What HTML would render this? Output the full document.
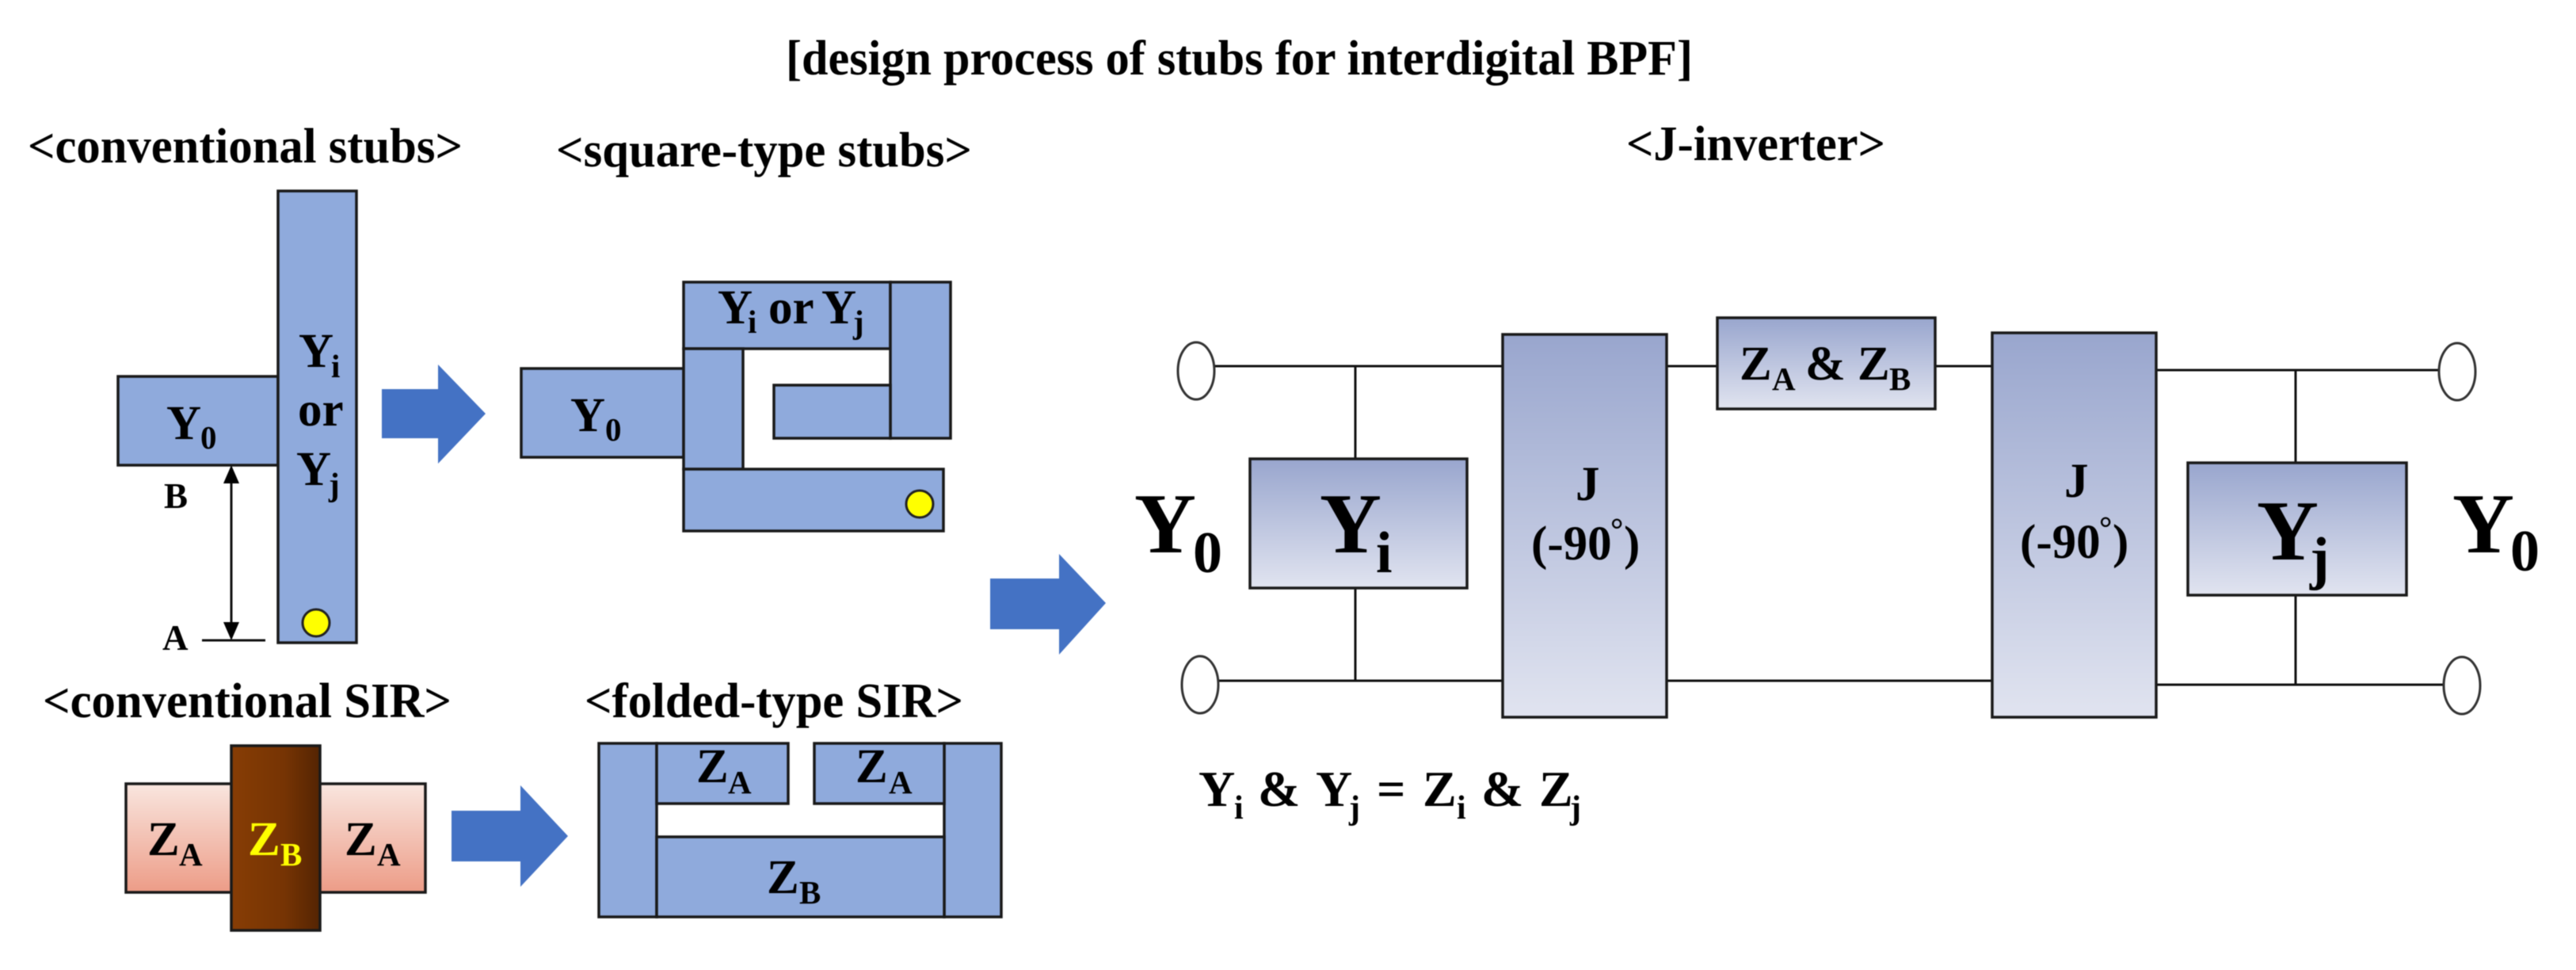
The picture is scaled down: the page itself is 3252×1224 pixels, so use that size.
<!DOCTYPE html>
<html>
<head>
<meta charset="utf-8">
<style>
html,body{margin:0;padding:0;background:#fff;}
svg{display:block;filter:blur(0.6px);}
text{font-family:"Liberation Serif",serif;font-weight:bold;fill:#000;}
.h{font-size:62px;}
.m{font-size:61px;}
.s{font-size:41px;}
.b{font-size:108px;}
.bs{font-size:74px;}
.e{font-size:64px;}
.es{font-size:42px;}
.y{fill:#ffff00;}
.l{stroke:#111;stroke-width:3;fill:none;}
.r{fill:#8faadc;stroke:#1a1a1a;stroke-width:3.5;}
.g{fill:url(#gb);stroke:#1a1a1a;stroke-width:3.5;}
.a{fill:#4472c4;}
.t{fill:#fff;stroke:#333;stroke-width:3;}
</style>
</head>
<body>
<svg width="3252" height="1224" viewBox="0 0 3252 1224" xmlns="http://www.w3.org/2000/svg">
<defs>
<linearGradient id="gb" x1="0" y1="0" x2="0" y2="1"><stop offset="0" stop-color="#99a6ce"/><stop offset="1" stop-color="#e1e4f0"/></linearGradient>
<linearGradient id="gp" x1="0" y1="0" x2="0" y2="1"><stop offset="0" stop-color="#f9e6df"/><stop offset="1" stop-color="#ed9c87"/></linearGradient>
<linearGradient id="gbr" x1="0" y1="0" x2="1" y2="0"><stop offset="0" stop-color="#873d05"/><stop offset="0.6" stop-color="#763404"/><stop offset="1" stop-color="#542403"/></linearGradient>
</defs>
<rect width="3252" height="1224" fill="#fff"/>

<!-- headings -->
<text class="h" x="992" y="94" textLength="1145" lengthAdjust="spacingAndGlyphs">[design process of stubs for interdigital BPF]</text>
<text class="h" x="35" y="205" textLength="549" lengthAdjust="spacingAndGlyphs">&lt;conventional stubs&gt;</text>
<text class="h" x="702" y="210" textLength="525" lengthAdjust="spacingAndGlyphs">&lt;square-type stubs&gt;</text>
<text class="h" x="2053" y="202" textLength="327" lengthAdjust="spacingAndGlyphs">&lt;J-inverter&gt;</text>
<text class="h" x="54" y="905" textLength="516" lengthAdjust="spacingAndGlyphs">&lt;conventional SIR&gt;</text>
<text class="h" x="738" y="905" textLength="478" lengthAdjust="spacingAndGlyphs">&lt;folded-type SIR&gt;</text>

<!-- conventional stubs -->
<rect class="r" x="149" y="475" width="202" height="112"/>
<rect class="r" x="351" y="241" width="99" height="570"/>
<ellipse cx="399" cy="786" rx="17" ry="17" fill="#ffff00" stroke="#222" stroke-width="3"/>
<text class="m" x="210" y="554">Y</text><text class="s" x="253" y="566">0</text>
<text class="m" x="377" y="463">Y</text><text class="s" x="418" y="476">i</text>
<text class="m" x="376" y="537">or</text>
<text class="m" x="374" y="612">Y</text><text class="s" x="415" y="625">j</text>
<text class="m" style="font-size:45px" x="207" y="641">B</text>
<text class="m" style="font-size:45px" x="205" y="820">A</text>
<line class="l" x1="292" y1="605" x2="292" y2="790"/>
<polygon points="292,587 282,610 302,610" fill="#000"/>
<polygon points="292,808 282,785 302,785" fill="#000"/>
<line class="l" x1="255" y1="808" x2="335" y2="808"/>

<!-- arrows -->
<polygon class="a" points="482,491 553,491 553,460 613,522 553,585 553,553 482,553"/>
<polygon class="a" points="1250,730 1337,730 1337,699 1396,761 1337,826 1337,794 1250,794"/>
<polygon class="a" points="570,1023 657,1023 657,991 717,1055 657,1119 657,1087 570,1087"/>

<!-- square-type stubs -->
<rect class="r" x="658" y="465" width="205" height="112"/>
<rect class="r" x="863" y="356" width="261" height="84"/>
<rect class="r" x="1124" y="356" width="76" height="197"/>
<rect class="r" x="977" y="486" width="147" height="67"/>
<rect class="r" x="863" y="440" width="75" height="152"/>
<rect class="r" x="863" y="592" width="328" height="78"/>
<circle cx="1161" cy="636" r="17" fill="#ffff00" stroke="#222" stroke-width="3"/>
<text class="m" x="720" y="544">Y</text><text class="s" x="764" y="556">0</text>
<text class="m" x="906" y="408">Y</text><text class="s" x="944" y="420">i</text>
<text class="m" x="970" y="408">or</text>
<text class="m" x="1037" y="408">Y</text><text class="s" x="1077" y="420">j</text>

<!-- conventional SIR -->
<rect x="159" y="989" width="378" height="137" fill="url(#gp)" stroke="#1a1a1a" stroke-width="3.5"/>
<rect x="292" y="941" width="112" height="233" fill="url(#gbr)" stroke="#1a1a1a" stroke-width="3.5"/>
<text class="m" x="186" y="1079">Z</text><text class="s" x="226" y="1092">A</text>
<text class="m y" x="313" y="1079">Z</text><text class="s y" x="354" y="1092">B</text>
<text class="m" x="435" y="1079">Z</text><text class="s" x="476" y="1092">A</text>

<!-- folded SIR -->
<rect class="r" x="756" y="938" width="73" height="219"/>
<rect class="r" x="1192" y="938" width="72" height="219"/>
<rect class="r" x="829" y="938" width="166" height="76"/>
<rect class="r" x="1028" y="938" width="164" height="76"/>
<rect class="r" x="829" y="1056" width="363" height="101"/>
<text class="m" x="879" y="987">Z</text><text class="s" x="919" y="1001">A</text>
<text class="m" x="1080" y="987">Z</text><text class="s" x="1122" y="1001">A</text>
<text class="m" x="968" y="1127">Z</text><text class="s" x="1009" y="1140">B</text>

<!-- J-inverter wires -->
<line class="l" x1="1533" y1="462" x2="1897" y2="462"/>
<line class="l" x1="1538" y1="859" x2="1897" y2="859"/>
<line class="l" x1="1711" y1="462" x2="1711" y2="859"/>
<line class="l" x1="2104" y1="462" x2="2168" y2="462"/>
<line class="l" x1="2443" y1="462" x2="2515" y2="462"/>
<line class="l" x1="2104" y1="859" x2="2515" y2="859"/>
<line class="l" x1="2722" y1="467" x2="3079" y2="467"/>
<line class="l" x1="2722" y1="864" x2="3085" y2="864"/>
<line class="l" x1="2898" y1="467" x2="2898" y2="864"/>

<ellipse class="t" cx="1510" cy="468" rx="23" ry="36"/>
<ellipse class="t" cx="1515" cy="864" rx="23" ry="36"/>
<ellipse class="t" cx="3102" cy="469" rx="23" ry="36"/>
<ellipse class="t" cx="3108" cy="865" rx="23" ry="36"/>

<!-- J-inverter boxes -->
<rect class="g" x="1578" y="579" width="274" height="163"/>
<rect class="g" x="1897" y="422" width="207" height="483"/>
<rect class="g" x="2168" y="401" width="275" height="115"/>
<rect class="g" x="2515" y="420" width="207" height="485"/>
<rect class="g" x="2762" y="584" width="276" height="167"/>

<!-- J-inverter labels -->
<text class="b" x="1432" y="697">Y</text><text class="bs" x="1506" y="722">0</text>
<text class="b" x="1666" y="697">Y</text><text class="bs" x="1737" y="722">i</text>
<text class="b" x="2849" y="706">Y</text><text class="bs" x="2916" y="729">j</text>
<text class="b" x="3096" y="697">Y</text><text class="bs" x="3169" y="720">0</text>

<text class="m" x="1989" y="631">J</text>
<text class="m" x="1933" y="706">(-90</text><text class="s" x="2033" y="682">°</text><text class="m" x="2050" y="706">)</text>
<text class="m" x="2606" y="627">J</text>
<text class="m" x="2550" y="704">(-90</text><text class="s" x="2650" y="680">°</text><text class="m" x="2667" y="704">)</text>

<text class="m" x="2196" y="479">Z</text><text class="s" x="2237" y="492">A</text>
<text class="m" x="2279" y="479">&amp;</text>
<text class="m" x="2345" y="479">Z</text><text class="s" x="2385" y="492">B</text>

<!-- equation -->
<text class="e" x="1513" y="1017">Y</text><text class="es" x="1558" y="1033">i</text>
<text class="e" x="1588" y="1017">&amp;</text>
<text class="e" x="1661" y="1017">Y</text><text class="es" x="1703" y="1033">j</text>
<text class="e" x="1738" y="1017">=</text>
<text class="e" x="1796" y="1017">Z</text><text class="es" x="1839" y="1033">i</text>
<text class="e" x="1870" y="1017">&amp;</text>
<text class="e" x="1943" y="1017">Z</text><text class="es" x="1982" y="1033">j</text>
</svg>
</body>
</html>
